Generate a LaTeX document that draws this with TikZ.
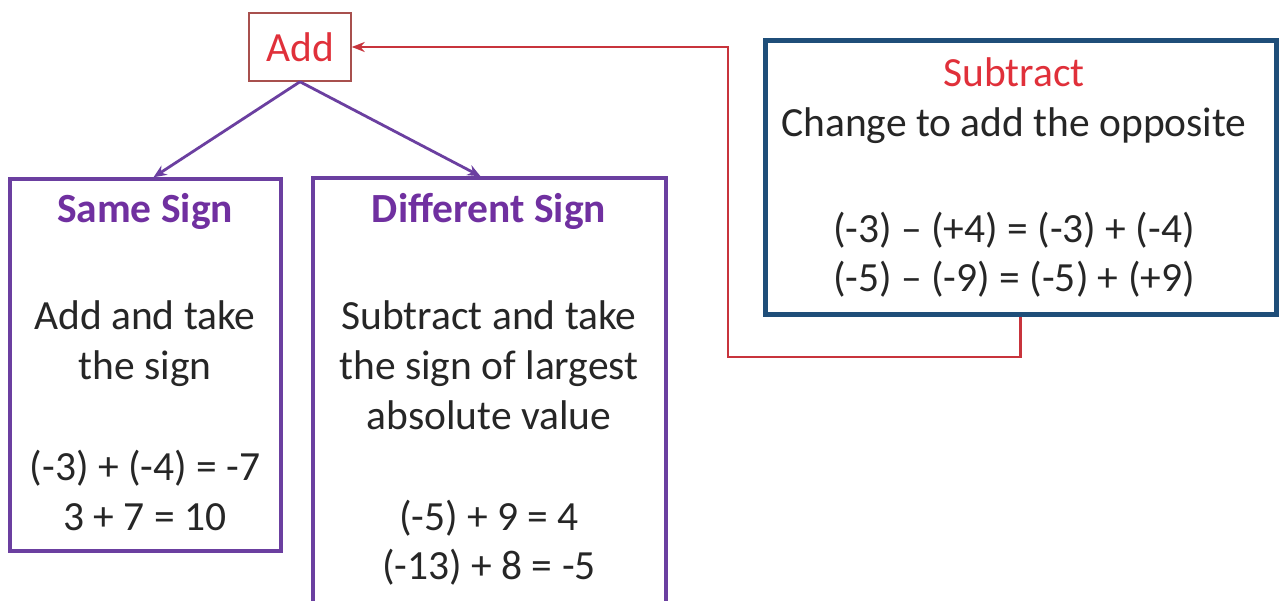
\documentclass[tikz,border=0pt]{standalone}
\usepackage{fontspec}
\setmainfont{Carlito}
\usetikzlibrary{arrows.meta}
\definecolor{txt}{HTML}{262626}
\definecolor{purp}{HTML}{7030A0}
\definecolor{purpline}{HTML}{6B3FA0}
\definecolor{redtxt}{HTML}{E0303A}
\definecolor{redline}{HTML}{C8343C}
\definecolor{addborder}{HTML}{A8504E}
\definecolor{navy}{HTML}{1F4E79}
\tikzset{
  big/.style={font=\fontsize{41.5}{48}\selectfont},
  line/.style={big, text=txt, anchor=base, inner sep=0pt},
  ptitle/.style={text=purp, anchor=base, inner sep=0pt, font=\fontsize{41.5}{48}\selectfont\bfseries},
  rtitle/.style={big, text=redtxt, anchor=base, inner sep=0pt},
  purplebox/.style={draw=purpline, line width=3.5pt, inner sep=0pt},
  navybox/.style={draw=navy, line width=5pt, inner sep=0pt},
  addbox/.style={draw=addborder, line width=1.5pt, inner sep=0pt, minimum width=102pt, minimum height=68pt, big, text=redtxt},
  purplearrow/.style={draw=purpline, line width=2.8pt, -{Stealth[length=13pt,width=11pt]}},
  redarrow/.style={draw=redline, line width=2.4pt, -{Stealth[length=13pt,width=10pt]}}
}
\begin{document}
\begin{tikzpicture}[x=1pt,y=-1pt]
\useasboundingbox (0,0) rectangle (1279,601);
\clip (0,0) rectangle (1279,601);
\fill[white] (0,0) rectangle (1279,601);

% boxes
\node[addbox] (add) at (300,47) {Add};
\node[purplebox, minimum width=271pt, minimum height=372pt] (same) at (145.5,365) {};
\node[purplebox, minimum width=353pt, minimum height=462pt] (diff) at (489.5,409) {};
\node[navybox, minimum width=511pt, minimum height=274pt] (sub) at (1020.5,178) {};

% Same Sign text
\node[ptitle] (t1) at (145,223) {Same Sign};
\node[line] (t2) at (145,330) {Add and take};
\node[line] (t3) at (145,379) {the sign};
\node[line] (t4) at (145,480) {(-3) + (-4) = -7};
\node[line] (t5) at (145,530) {3 + 7 = 10};

% Different Sign text
\node[ptitle] (d1) at (489,223) {Different Sign};
\node[line] (d2) at (489,330) {Subtract and take};
\node[line] (d3) at (489,379) {the sign of largest};
\node[line] (d4) at (489,429) {absolute value};
\node[line] (d5) at (489,530) {(-5) + 9 = 4};
\node[line] (d6) at (489,579) {(-13) + 8 = -5};

% Subtract text
\node[rtitle] (s1) at (1014,87) {Subtract};
\node[line] (s2) at (1014,137) {Change to add the opposite};
\node[line] (s3) at (1014,243) {(-3) \textendash{} (+4) = (-3) + (-4)};
\node[line] (s4) at (1014,292) {(-5) \textendash{} (-9) = (-5) + (+9)};

% connectors
\draw[purplearrow] (add.south) -- ([xshift=8pt]same.north);
\draw[purplearrow] (add.south) -- ([xshift=-9pt]diff.north);
\coordinate (bend) at (728,357);
\draw[redarrow] (sub.south) |- (bend) |- (add.east);
\end{tikzpicture}
\end{document}
